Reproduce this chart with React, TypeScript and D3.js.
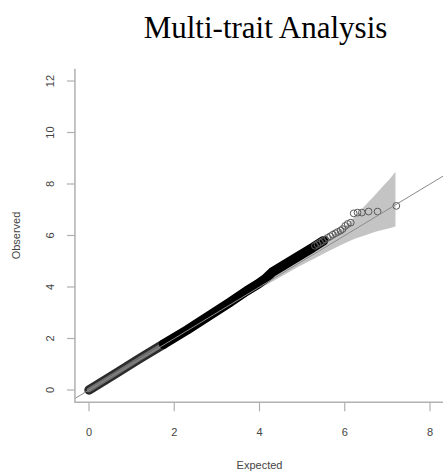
import React from "react";
import * as d3 from "d3";

// Axis ticks
const xTicks = [0, 2, 4, 6, 8];
const yTicks = [0, 2, 4, 6, 8, 10, 12];

// Dense lower part of the QQ cloud (drawn as a thick band)
const lowExpected = [0, 0.6, 1.2, 1.75];
const lowObserved = [0, 0.61, 1.23, 1.78];

const midExpected = [1.75, 2.3, 2.8, 3.3, 3.7, 3.95, 4.15, 4.3, 4.6, 4.9, 5.25, 5.5];
const midObserved = [1.78, 2.33, 2.86, 3.4, 3.85, 4.1, 4.34, 4.58, 4.88, 5.18, 5.53, 5.8];

// Sparse upper tail, one circle per point
const tailExpected = [5.3, 5.36, 5.42, 5.48, 5.54, 5.6, 5.66, 5.72, 5.78, 5.84, 5.9, 5.95, 6.01, 6.07, 6.14, 6.21, 6.3, 6.4, 6.56, 6.77, 7.21];
const tailObserved = [5.6, 5.66, 5.72, 5.78, 5.85, 5.91, 5.97, 6.03, 6.09, 6.14, 6.19, 6.25, 6.37, 6.45, 6.5, 6.86, 6.89, 6.89, 6.93, 6.93, 7.15];

// 95% confidence envelope
const ciExpected = [3.0, 3.5, 4.0, 4.5, 4.9, 5.3, 5.6, 5.9, 6.1, 6.25, 6.5, 6.7, 6.9, 7.05, 7.19];
const ciUpper = [3.04, 3.56, 4.08, 4.62, 5.06, 5.52, 5.88, 6.23, 6.5, 6.75, 7.2, 7.55, 7.92, 8.18, 8.48];
const ciLower = [2.97, 3.45, 3.93, 4.4, 4.78, 5.12, 5.38, 5.62, 5.78, 5.88, 6.02, 6.14, 6.22, 6.28, 6.35];

const W = 443;
const H = 473;

const x = d3.scaleLinear().domain([0, 8]).range([89, 430]);
const y = d3.scaleLinear().domain([0, 12]).range([390, 81]);

// plot region (R style 4% padding)
const xLo = -0.33;
const xHi = 8.52;
const yLo = -0.48;
const yHi = 12.48;

export default function App() {
  const left = x(xLo);
  const right = x(xHi);
  const top = y(yHi);
  const bottom = y(yLo);

  const line = d3
    .line<[number, number]>()
    .x((d) => x(d[0]))
    .y((d) => y(d[1]));

  const low = lowExpected.map((e, i) => [e, lowObserved[i]] as [number, number]);
  const mid = midExpected.map((e, i) => [e, midObserved[i]] as [number, number]);

  const area = d3
    .area<number>()
    .x((_, i) => x(ciExpected[i]))
    .y0((_, i) => y(ciLower[i]))
    .y1((_, i) => y(ciUpper[i]));
  const ciPath = area(ciExpected)!;

  const refLo = Math.max(xLo, yLo);
  const refHi = Math.min(xHi, yHi);

  const sans = "'Liberation Sans', Arial, sans-serif";

  return (
    <svg
      width={W}
      height={H}
      style={{ position: "absolute", left: 0, top: 0, background: "#fff" }}
    >
      <defs>
        <clipPath id="plotArea">
          <rect x={left} y={top} width={right - left} height={bottom - top} />
        </clipPath>
      </defs>

      <text
        x={265.5}
        y={38}
        textAnchor="middle"
        fontFamily="'Liberation Serif', 'Times New Roman', serif"
        fontSize={31}
        fill="#000"
      >
        Multi-trait Analysis
      </text>

      <g clipPath="url(#plotArea)">
        <path d={ciPath} fill="#c4c4c4" stroke="none" />

        {/* lower part of the point cloud */}
        <path
          d={line(low)!}
          fill="none"
          stroke="#2b2b2b"
          strokeWidth={9.5}
          strokeLinecap="round"
          strokeLinejoin="round"
        />
        <path
          d={line(low)!}
          fill="none"
          stroke="#6e6e6e"
          strokeWidth={4.5}
          strokeLinecap="round"
          strokeLinejoin="round"
        />
        <path
          d={line(mid)!}
          fill="none"
          stroke="#000"
          strokeWidth={9.5}
          strokeLinecap="round"
          strokeLinejoin="round"
        />

        {tailExpected.map((e, i) => (
          <circle
            key={i}
            cx={x(e)}
            cy={y(tailObserved[i])}
            r={3.4}
            fill="none"
            stroke="#5a5a5a"
            strokeWidth={1}
          />
        ))}

        <line
          x1={x(refLo)}
          y1={y(refLo)}
          x2={x(refHi)}
          y2={y(refHi)}
          stroke="#8a8a8a"
          strokeWidth={1}
        />
      </g>

      {/* L-shaped box */}
      <path
        d={`M${left},${top}V${bottom}H${right}`}
        fill="none"
        stroke="#b0b0b0"
        strokeWidth={1.5}
      />

      {/* x axis */}
      {xTicks.map((t) => (
        <g key={t}>
          <line x1={x(t)} x2={x(t)} y1={bottom} y2={bottom + 9} stroke="#b0b0b0" strokeWidth={1.2} />
          <text
            x={x(t)}
            y={436}
            textAnchor="middle"
            fontFamily={sans}
            fontSize={11}
            fill="#444"
          >
            {t}
          </text>
        </g>
      ))}

      {/* y axis */}
      {yTicks.map((t) => (
        <g key={t}>
          <line x1={left - 8} x2={left} y1={y(t)} y2={y(t)} stroke="#b0b0b0" strokeWidth={1.2} />
          <text
            transform={`translate(54,${y(t)}) rotate(-90)`}
            textAnchor="middle"
            fontFamily={sans}
            fontSize={11}
            fill="#444"
          >
            {t}
          </text>
        </g>
      ))}

      <text
        x={x(4)}
        y={469}
        textAnchor="middle"
        fontFamily={sans}
        fontSize={11}
        fill="#444"
      >
        Expected
      </text>
      <text
        transform={`translate(20,${y(6)}) rotate(-90)`}
        textAnchor="middle"
        fontFamily={sans}
        fontSize={11}
        fill="#444"
      >
        Observed
      </text>
    </svg>
  );
}
